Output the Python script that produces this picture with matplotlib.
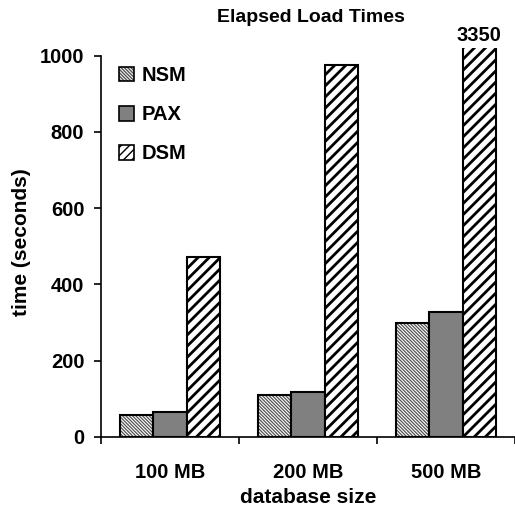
import numpy as np
import matplotlib
matplotlib.use('Agg')
import matplotlib.pyplot as plt
from matplotlib.patches import Patch
from matplotlib.legend_handler import HandlerTuple

sizes = ['100 MB', '200 MB', '500 MB']
nsm = [58, 110, 299]
pax = [65, 118, 328]
dsm = [472, 976, 3350]
series = ['NSM', 'PAX', 'DSM']

plt.rcParams['font.family'] = ['Liberation Sans', 'DejaVu Sans']
plt.rcParams['font.weight'] = 'bold'
fts = 14.5

fig = plt.figure(figsize=(5.15, 5.13), dpi=100)
ax = fig.add_axes([101/515., 76/513., 414/515., 389/513.])

x = np.arange(len(sizes))
w = 0.24
nsm_hatch = '\\' * 10

# NSM: fine grey hatch, then black outline on top
with plt.rc_context({'hatch.linewidth': 0.9}):
	ax.bar(x - w, nsm, w, color='white', edgecolor='#555555', hatch=nsm_hatch, linewidth=0)
	nsm_h = Patch(facecolor='white', edgecolor='#555555', hatch=nsm_hatch, linewidth=0)
ax.bar(x - w, nsm, w, color='none', edgecolor='black', linewidth=1.5)
pax_b = ax.bar(x, pax, w, color='#808080', edgecolor='black', linewidth=1.5)
with plt.rc_context({'hatch.linewidth': 2.0}):
	dsm_b = ax.bar(x + w, dsm, w, color='white', edgecolor='black', hatch='///', linewidth=1.5)
	dsm_h = Patch(facecolor='white', edgecolor='black', hatch='////', linewidth=1.2)
nsm_o = Patch(facecolor='none', edgecolor='black', linewidth=1.2)
pax_h = Patch(facecolor='#808080', edgecolor='black', linewidth=1.2)

ax.set_ylim(0, 1020)
ax.set_xlim(-0.5, 2.5)
ax.spines['top'].set_visible(False)
ax.spines['right'].set_visible(False)
ax.spines['left'].set_bounds(0, 1000)
ax.spines['left'].set_linewidth(1.2)
ax.spines['bottom'].set_linewidth(1.2)

ax.set_yticks([0, 200, 400, 600, 800, 1000])
ax.tick_params(axis='y', labelsize=fts, length=5, width=1.2, pad=7)
ax.set_xticks(x)
ax.set_xticklabels(sizes)
ax.tick_params(axis='x', which='major', length=0, labelsize=fts, pad=19)
ax.set_xticks([-0.5, 0.5, 1.5, 2.5], minor=True)
ax.tick_params(axis='x', which='minor', length=5, width=1.2, direction='out')

# value of the clipped bar
ax.annotate(str(dsm[2]), xy=(x[2] + w, 1020), xytext=(0, 2), textcoords='offset points',
			ha='center', va='bottom', fontsize=fts, fontweight='bold', annotation_clip=False)

ax.set_xlabel('database size', fontsize=15, fontweight='bold', labelpad=4)
ax.set_ylabel('time (seconds)', fontsize=15, fontweight='bold')
ax.yaxis.set_label_coords(-0.17, 0.5)
fig.text(311/515., 1 - 17/513., 'Elapsed Load Times', ha='center', va='center', fontsize=14, fontweight='bold')

ax.legend([(nsm_h, nsm_o), pax_h, dsm_h], series, handler_map={tuple: HandlerTuple(ndivide=1, pad=0)},
		  loc='upper left', bbox_to_anchor=(0.0, 1.0), frameon=False, fontsize=fts,
		  handlelength=0.75, handleheight=0.75, labelspacing=1.0, handletextpad=0.35)

plt.savefig('out.png', dpi=100)
plt.close()
